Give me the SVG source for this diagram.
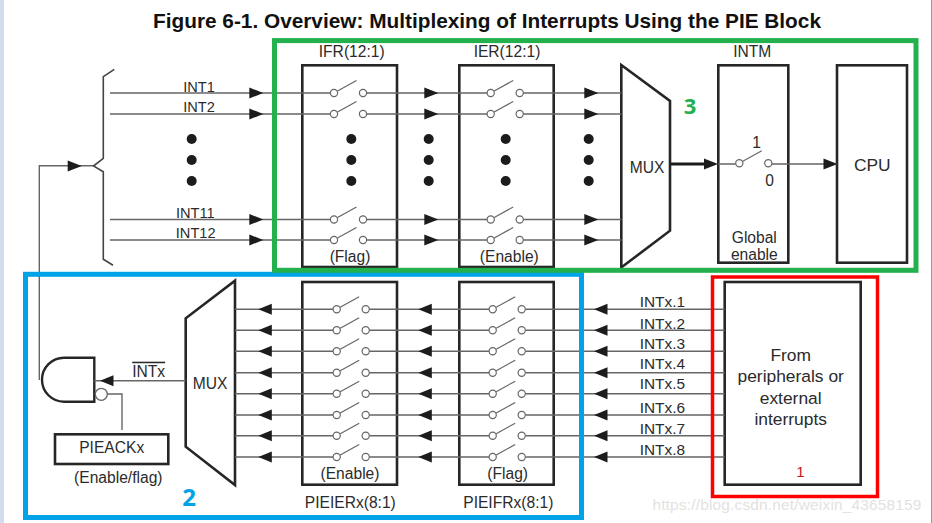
<svg xmlns="http://www.w3.org/2000/svg" width="932" height="523" viewBox="0 0 932 523">
<style>
text{font-family:"Liberation Sans",Arial,sans-serif;fill:#2b2b2b;font-size:15.6px;text-anchor:middle}
.l{font-size:14.6px}
.x{font-size:15.4px;text-anchor:start}
.big{font-size:17.4px}
.box{fill:#fff;stroke:#262626;stroke-width:2.6}
.wire{fill:none;stroke:#666;stroke-width:1.4}
.frame{fill:none}
.dot{fill:#1c1c1c}
</style>
<defs>
<polygon id="ar" points="0,0 -14,-5.5 -14,5.5" fill="#1c1c1c"/>
<polygon id="al" points="0,0 13.5,-5.5 13.5,5.5" fill="#1c1c1c"/>
<g id="sw">
<path d="M3.5 -2L22.5 -12.5" fill="none" stroke="#666" stroke-width="1.2"/>
<circle cx="0" cy="0" r="3.6" fill="#fff" stroke="#666" stroke-width="1.2"/>
<circle cx="29" cy="0" r="3.6" fill="#fff" stroke="#666" stroke-width="1.2"/>
</g>
<g id="dots" class="dot"><circle cy="139" r="5"/><circle cy="160" r="5"/><circle cy="181" r="5"/></g>
</defs>
<rect width="932" height="523" fill="#fff"/>
<rect width="4" height="523" fill="#d3dcec"/>
<rect x="931" width="1" height="523" fill="#9a9a9a"/>
<text x="487" y="27.5" style="font-size:20.8px;font-weight:700;fill:#111">Figure 6-1. Overview: Multiplexing of Interrupts Using the PIE Block</text>

<g id="node-ifr"><rect class="box" x="302.3" y="65.3" width="94.7" height="201.7"/><text x="351.7" y="57.3">IFR(12:1)</text><text x="350" y="262">(Flag)</text></g>
<g id="node-ier"><rect class="box" x="459.3" y="65.3" width="94.4" height="201.7"/><text x="507" y="57.3">IER(12:1)</text><text x="509.3" y="262">(Enable)</text></g>
<g id="node-mux-top"><polygon class="box" points="621.3,65 670,101 670,230.7 621.3,267.5"/><text x="647" y="172.7">MUX</text></g>
<g id="node-intm"><rect class="box" x="718.3" y="65.3" width="70" height="197.4"/><text x="752.3" y="57.3">INTM</text><text x="756.7" y="148.3">1</text><text x="769.7" y="186">0</text><text x="754.3" y="242.7">Global</text><text x="754.3" y="260">enable</text></g>
<g id="node-cpu"><rect class="box" x="837" y="65.3" width="70" height="197.4"/><text class="big" x="872.3" y="171">CPU</text></g>
<g id="node-pieier"><rect class="box" x="302.3" y="282" width="94.7" height="202.7"/><text x="350" y="479.3">(Enable)</text><text x="350.3" y="508.3">PIEIERx(8:1)</text></g>
<g id="node-pieifr"><rect class="box" x="459.3" y="282" width="94.4" height="202.7"/><text x="507.7" y="479.3">(Flag)</text><text x="508.3" y="508.3">PIEIFRx(8:1)</text></g>
<g id="node-mux-bottom"><polygon class="box" points="235,280.7 235,485 185.7,446.7 185.7,318.3"/><text x="210" y="389">MUX</text></g>
<g id="node-source"><rect class="box" x="724.7" y="282" width="136" height="202.7"/><text class="big" x="790.7" y="360.7">From</text><text class="big" x="790.7" y="382.3">peripherals or</text><text class="big" x="790.7" y="404">external</text><text class="big" x="790.7" y="425.3">interrupts</text></g>
<g id="node-and"><path d="M94.3 357.7H64A22 22 0 0 0 64 401.7H94.3Z" fill="#fff" stroke="#262626" stroke-width="2.4"/><circle cx="101.3" cy="394.3" r="6" fill="#fff" stroke="#666" stroke-width="1.3"/></g>
<g id="node-pieack"><rect class="box" x="55" y="434.3" width="113.3" height="29.7"/><text x="111.7" y="453.3">PIEACKx</text><text x="118.3" y="483.3">(Enable/flag)</text></g>

<g id="connectors">
<path class="wire" d="M110 93H330.4M366.6 93H487.1M523.3 93H621.3M110 114H330.4M366.6 114H487.1M523.3 114H621.3M110 219.5H330.4M366.6 219.5H487.1M523.3 219.5H621.3M110 240H330.4M366.6 240H487.1M523.3 240H621.3"/>
<path class="wire" d="M235 309.3H333.1M369.3 309.3H489.1M525.7 309.3H724.7M235 330.3H333.1M369.3 330.3H489.1M525.7 330.3H724.7M235 351.3H333.1M369.3 351.3H489.1M525.7 351.3H724.7M235 372.7H333.1M369.3 372.7H489.1M525.7 372.7H724.7M235 393.7H333.1M369.3 393.7H489.1M525.7 393.7H724.7M235 415H333.1M369.3 415H489.1M525.7 415H724.7M235 435.7H333.1M369.3 435.7H489.1M525.7 435.7H724.7M235 457H333.1M369.3 457H489.1M525.7 457H724.7"/>
<path class="wire" d="M39.3 380V165.7H93M185.7 380.7H94.3M107.3 394H122V430M718 164H735.7M772 164H837"/>
<path d="M670 164H710" fill="none" stroke="#1c1c1c" stroke-width="2.8"/>
<path d="M114.3 69.3L103.3 76.7V158.3L93.5 166L103.3 171.7V259.3L113 265.3" fill="none" stroke="#444" stroke-width="1.6"/>
<use href="#ar" x="263.3" y="93"/><use href="#ar" x="263.3" y="114"/><use href="#ar" x="263.3" y="219.5"/><use href="#ar" x="263.3" y="240"/>
<use href="#ar" x="438.3" y="93"/><use href="#ar" x="438.3" y="114"/><use href="#ar" x="438.3" y="219.5"/><use href="#ar" x="438.3" y="240"/>
<use href="#ar" x="598.3" y="93"/><use href="#ar" x="598.3" y="114"/><use href="#ar" x="598.3" y="219.5"/><use href="#ar" x="598.3" y="240"/>
<use href="#ar" x="81.7" y="166"/><use href="#ar" x="718" y="164"/><use href="#ar" x="837.5" y="164"/>
<use href="#al" x="100" y="380.7"/>
<use href="#al" x="258.3" y="309.3"/><use href="#al" x="258.3" y="330.3"/><use href="#al" x="258.3" y="351.3"/><use href="#al" x="258.3" y="372.7"/><use href="#al" x="258.3" y="393.7"/><use href="#al" x="258.3" y="415"/><use href="#al" x="258.3" y="435.7"/><use href="#al" x="258.3" y="457"/>
<use href="#al" x="418.3" y="309.3"/><use href="#al" x="418.3" y="330.3"/><use href="#al" x="418.3" y="351.3"/><use href="#al" x="418.3" y="372.7"/><use href="#al" x="418.3" y="393.7"/><use href="#al" x="418.3" y="415"/><use href="#al" x="418.3" y="435.7"/><use href="#al" x="418.3" y="457"/>
<use href="#al" x="594" y="309.3"/><use href="#al" x="594" y="330.3"/><use href="#al" x="594" y="351.3"/><use href="#al" x="594" y="372.7"/><use href="#al" x="594" y="393.7"/><use href="#al" x="594" y="415"/><use href="#al" x="594" y="435.7"/><use href="#al" x="594" y="457"/>
</g>

<g id="switches">
<use href="#sw" x="334" y="93"/><use href="#sw" x="334" y="114"/><use href="#sw" x="334" y="219.5"/><use href="#sw" x="334" y="240"/>
<use href="#sw" x="490.7" y="93"/><use href="#sw" x="490.7" y="114"/><use href="#sw" x="490.7" y="219.5"/><use href="#sw" x="490.7" y="240"/>
<use href="#sw" x="739.3" y="163.3"/>
<use href="#sw" x="336.7" y="309.3"/><use href="#sw" x="336.7" y="330.3"/><use href="#sw" x="336.7" y="351.3"/><use href="#sw" x="336.7" y="372.7"/><use href="#sw" x="336.7" y="393.7"/><use href="#sw" x="336.7" y="415"/><use href="#sw" x="336.7" y="435.7"/><use href="#sw" x="336.7" y="457"/>
<use href="#sw" x="492.7" y="309.3"/><use href="#sw" x="492.7" y="330.3"/><use href="#sw" x="492.7" y="351.3"/><use href="#sw" x="492.7" y="372.7"/><use href="#sw" x="492.7" y="393.7"/><use href="#sw" x="492.7" y="415"/><use href="#sw" x="492.7" y="435.7"/><use href="#sw" x="492.7" y="457"/>
<use href="#dots" x="191.7"/><use href="#dots" x="351.3"/><use href="#dots" x="428.7"/><use href="#dots" x="505.7"/><use href="#dots" x="588.7"/>
</g>

<g id="labels">
<text class="l" x="199" y="91.7">INT1</text><text class="l" x="199" y="112.3">INT2</text><text class="l" x="195.3" y="218.3">INT11</text><text class="l" x="195.7" y="238.3">INT12</text>
<text class="x" x="639.7" y="307.3">INTx.1</text><text class="x" x="639.7" y="328.7">INTx.2</text><text class="x" x="639.7" y="349.3">INTx.3</text><text class="x" x="639.7" y="368.7">INTx.4</text><text class="x" x="639.7" y="389.3">INTx.5</text><text class="x" x="639.7" y="412.7">INTx.6</text><text class="x" x="639.7" y="434">INTx.7</text><text class="x" x="639.7" y="455">INTx.8</text>
<text x="148.7" y="376.7" text-decoration="overline">INTx</text>
</g>

<text x="787" y="510" style="font-size:15.4px;fill:#e2e2e2;letter-spacing:.2px">https://blog.csdn.net/weixin_43658159</text>
<g id="frames">
<rect class="frame" x="25.5" y="274.3" width="556" height="243.2" stroke="#00a2e8" stroke-width="5"/>
<rect class="frame" x="274.5" y="40.6" width="641.5" height="229.7" stroke="#22b14c" stroke-width="5"/>
<rect class="frame" x="712.5" y="277" width="165" height="219.5" stroke="#ff0000" stroke-width="3.5"/>
</g>
<text x="690" y="114" style="font-family:'Open Sans',sans-serif;font-size:22px;font-weight:700;fill:#22b14c">3</text>
<text x="189" y="505.7" style="font-family:'Open Sans',sans-serif;font-size:24px;font-weight:700;fill:#00a2e8">2</text>
<text x="800.5" y="477" style="font-size:15px;fill:#c8141c">1</text>
</svg>
